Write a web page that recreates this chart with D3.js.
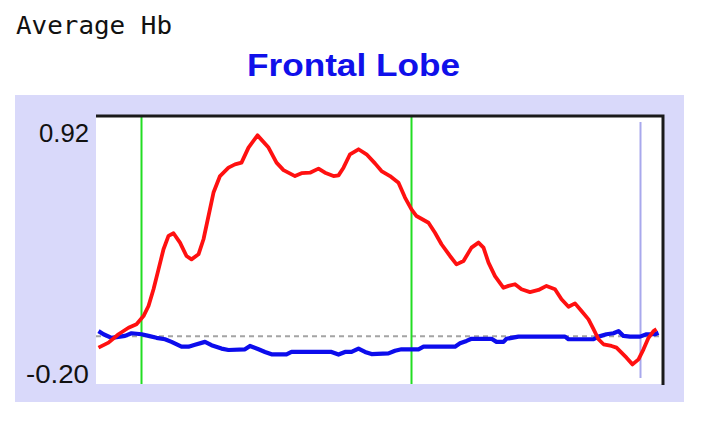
<!DOCTYPE html>
<html>
<head>
<meta charset="utf-8">
<script src="https://cdn.jsdelivr.net/npm/d3@7"></script>
<style>
  html, body { margin: 0; padding: 0; background: #ffffff; }
  svg { display: block; }
</style>
</head>
<body>
<svg id="chart" width="712" height="443"></svg>
<script>
// ---- data (time in seconds, Hb change) ----
const yTickLabels = ["0.92", "-0.20"];
const yDomain = [-0.20, 0.92];
const xDomain = [0, 113.4];
const markerTimes = [9.1, 63.1];      // green task markers
const endMarkerTime = 108.9;          // lavender marker

const redTime = [0.5, 2.5, 4.5, 6.5, 8.1, 9.5, 10.5, 11.5, 12.5, 13.5, 14.5, 15.5, 16.8, 18.1, 19.1, 20.5, 21.5, 22.5, 23.5, 24.8,
  26.5, 27.8, 29.1, 30.5, 32.3, 34.5, 36.1, 37.5, 39.8, 41.1, 42.8, 44.5, 45.8, 47.5, 48.5, 49.5, 50.8, 52.5, 54.1, 55.8,
  57.1, 58.8, 60.5, 61.8, 63.1, 64.1, 66.5, 67.8, 69.1, 70.8, 72.1, 73.5, 75.1, 76.5, 77.5, 78.5, 79.8, 81.5, 82.5, 83.8,
  85.1, 86.8, 88.5, 90.1, 91.8, 93.1, 94.5, 95.8, 97.1, 98.5, 99.5, 100.5, 101.5, 103.1, 104.1, 105.1, 106.1, 107.3, 108.5, 109.5,
  110.5, 111.5, 112.1];
const redValue = [-0.048, -0.027, 0.008, 0.035, 0.050, 0.084, 0.126, 0.196, 0.279, 0.363, 0.419, 0.430, 0.391, 0.335, 0.321, 0.342, 0.405, 0.502, 0.600, 0.669,
  0.704, 0.718, 0.725, 0.788, 0.839, 0.788, 0.725, 0.694, 0.669, 0.681, 0.683, 0.700, 0.683, 0.669, 0.672, 0.704, 0.760, 0.781, 0.760, 0.722,
  0.690, 0.669, 0.641, 0.579, 0.530, 0.502, 0.474, 0.432, 0.384, 0.335, 0.300, 0.314, 0.370, 0.391, 0.370, 0.307, 0.251, 0.202, 0.210, 0.217,
  0.196, 0.184, 0.193, 0.210, 0.196, 0.154, 0.123, 0.137, 0.105, 0.070, 0.029, -0.013, -0.034, -0.041, -0.048, -0.069, -0.090, -0.118, -0.097, -0.055,
  -0.007, 0.021, 0.029];

const blueTime = [0.5, 1.5, 3.1, 5.8, 7.1, 9.1, 10.5, 12.1, 13.8, 15.1, 17.1, 18.5, 19.8, 21.8, 23.1, 25.1, 26.5, 29.8, 30.8, 32.5,
  33.8, 35.1, 38.1, 39.1, 47.1, 48.5, 49.8, 51.1, 52.5, 53.8, 55.1, 58.5, 59.8, 61.1, 64.5, 65.5, 71.8, 72.8, 74.1, 75.1,
  79.1, 80.1, 81.5, 82.1, 84.5, 93.8, 94.5, 99.5, 100.5, 102.1, 103.5, 104.5, 105.5, 106.8, 108.8, 110.1, 111.8, 112.5];
const blueValue = [0.021, 0.008, -0.007, 0.001, 0.012, 0.008, 0.001, -0.007, -0.013, -0.024, -0.044, -0.044, -0.036, -0.024, -0.038, -0.052, -0.058, -0.055, -0.041, -0.055,
  -0.066, -0.076, -0.076, -0.066, -0.066, -0.077, -0.066, -0.066, -0.052, -0.066, -0.075, -0.072, -0.061, -0.055, -0.055, -0.044, -0.044, -0.030, -0.020, -0.011,
  -0.011, -0.024, -0.024, -0.011, -0.002, -0.002, -0.013, -0.013, -0.002, 0.008, 0.012, 0.021, 0.001, -0.002, -0.002, 0.008, 0.008, 0.014];

const pageTitle = "Average Hb";
const chartTitle = "Frontal Lobe";

// ---- layout ----
const svg = d3.select("#chart");
const plot = { left: 96, right: 663, top: 116, bottom: 384 };

const x = d3.scaleLinear().domain(xDomain).range([plot.left, plot.right]);
const y = d3.scaleLinear().domain(yDomain).range([plot.bottom, plot.top]);

// page title
svg.append("text")
  .attr("x", 16).attr("y", 34)
  .attr("font-family", "DejaVu Sans Mono, monospace")
  .attr("font-size", 25)
  .attr("textLength", 156)
  .attr("lengthAdjust", "spacingAndGlyphs")
  .attr("fill", "#111")
  .text(pageTitle);

// chart title
svg.append("text")
  .attr("x", 247).attr("y", 76)
  .attr("font-family", "Liberation Sans, Arial, sans-serif")
  .attr("font-weight", "bold")
  .attr("font-size", 32)
  .attr("textLength", 213)
  .attr("lengthAdjust", "spacingAndGlyphs")
  .attr("fill", "#1010ea")
  .text(chartTitle);

// lavender panel
svg.append("rect")
  .attr("x", 15).attr("y", 95)
  .attr("width", 669).attr("height", 307)
  .attr("fill", "#d9d9fa");

// white plot area
svg.append("rect")
  .attr("x", plot.left).attr("y", plot.top)
  .attr("width", plot.right - plot.left).attr("height", plot.bottom - plot.top)
  .attr("fill", "#ffffff");

// y labels
const yLabelG = svg.append("g")
  .attr("font-family", "Liberation Sans, Arial, sans-serif")
  .attr("font-size", 26)
  .attr("fill", "#111")
  .attr("text-anchor", "end");
yLabelG.append("text").attr("x", plot.left - 7).attr("y", y(yDomain[1]) + 26)
  .attr("textLength", 50).attr("lengthAdjust", "spacingAndGlyphs")
  .text(yTickLabels[0]);
yLabelG.append("text").attr("x", plot.left - 7).attr("y", y(yDomain[0]) - 1)
  .attr("textLength", 63).attr("lengthAdjust", "spacingAndGlyphs")
  .text(yTickLabels[1]);

// zero dashed line
svg.append("line")
  .attr("x1", plot.left).attr("x2", plot.right)
  .attr("y1", y(0)).attr("y2", y(0))
  .attr("stroke", "#a4a4a4").attr("stroke-width", 2)
  .attr("stroke-dasharray", "5,4");

// green markers
svg.selectAll("line.marker").data(markerTimes).enter().append("line")
  .attr("class", "marker")
  .attr("x1", d => x(d)).attr("x2", d => x(d))
  .attr("y1", plot.top).attr("y2", plot.bottom)
  .attr("stroke", "#22dd22").attr("stroke-width", 2);

// lavender end marker
svg.append("line")
  .attr("x1", x(endMarkerTime)).attr("x2", x(endMarkerTime))
  .attr("y1", plot.top + 6).attr("y2", plot.bottom - 6)
  .attr("stroke", "#a8a8ec").attr("stroke-width", 2);

// series
const line = d3.line().x(d => x(d[0])).y(d => y(d[1]));
const blueData = blueTime.map((t, i) => [t, blueValue[i]]);
const redData = redTime.map((t, i) => [t, redValue[i]]);

svg.append("path").datum(blueData)
  .attr("d", line)
  .attr("fill", "none").attr("stroke", "#0c0cec")
  .attr("stroke-width", 4.2).attr("stroke-linejoin", "round");

svg.append("path").datum(redData)
  .attr("d", line)
  .attr("fill", "none").attr("stroke", "#ff1010")
  .attr("stroke-width", 3.8).attr("stroke-linejoin", "round");

// frame: top and right borders
svg.append("path")
  .attr("d", `M${plot.left},${plot.top}H${plot.right}V${plot.bottom + 1}`)
  .attr("fill", "none").attr("stroke", "#1a1a1a").attr("stroke-width", 3);
</script>
</body>
</html>
